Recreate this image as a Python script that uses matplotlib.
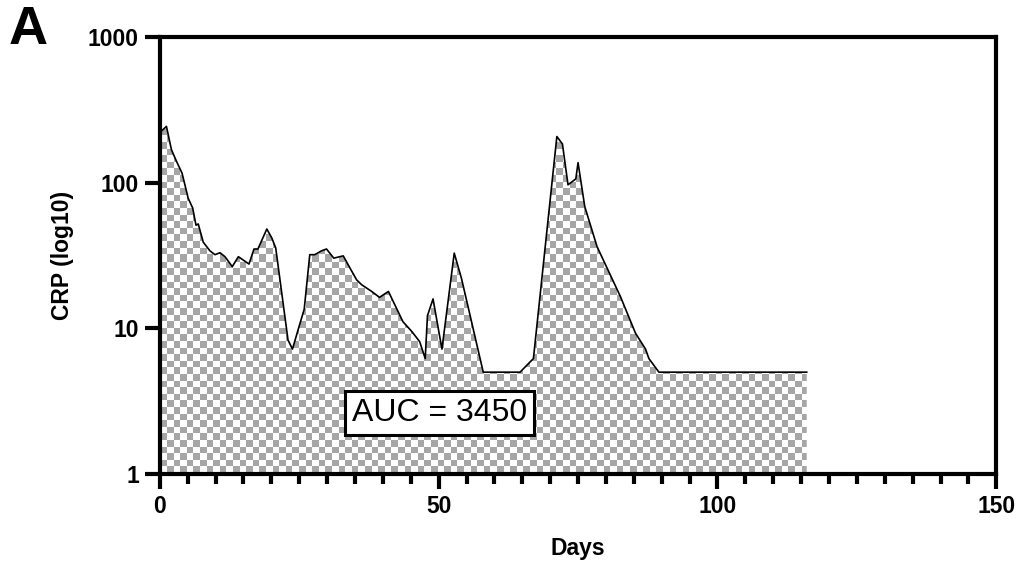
import numpy as np
import matplotlib
matplotlib.use("Agg")
import matplotlib.pyplot as plt
from matplotlib.colors import ListedColormap

plt.rcParams['font.family'] = ['Liberation Sans', 'DejaVu Sans']

# CRP over time
days = [0, 1.2, 2.1, 3.0, 4.0, 5.1, 5.9, 6.5, 6.9, 7.8,
        9.0, 9.9, 10.8, 11.7, 13.0, 14.1, 16.0, 16.9, 17.6, 19.2,
        20.1, 20.8, 23.0, 23.8, 24.8, 25.9, 26.9, 27.8, 29.0, 29.9,
        31.2, 32.9, 33.8, 35.3, 36.2, 38.0, 39.4, 41.0, 43.6, 45.2,
        46.6, 47.6, 48.0, 49.0, 50.6, 52.8, 54.1, 58.0, 64.6, 67.0,
        71.2, 72.2, 73.2, 74.6, 75.0, 76.2, 78.4, 82.6, 85.3, 87.1,
        87.7, 89.5, 116]
crp = [220, 243, 168, 140, 116, 78, 67, 51, 52, 39,
       34, 32, 33, 31, 26.5, 31, 27.6, 35, 35, 48,
       41.6, 35.5, 8.3, 7.2, 9.75, 13.5, 32, 32, 34, 35,
       30.3, 31.4, 27.2, 21.5, 19.9, 17.9, 16.3, 17.9, 11.1, 9.5,
       8.1, 6.2, 12.2, 15.9, 7.2, 32.8, 22, 5, 5, 6.2,
       207, 184, 96.5, 106, 137, 68.5, 36.4, 16.5, 9.25, 7.2,
       6.2, 5, 5]
auc_text = "AUC = 3450"

fig = plt.figure(figsize=(10.24, 5.67), dpi=100)
ax = fig.add_axes([0.156, 0.164, 0.817, 0.771])
ax.set_yscale('log')

# area under the curve, filled with a checkerboard pattern
poly = ax.fill_between(days, crp, 1, facecolor='none', edgecolor='none')
w, h = 836, 437
sq = 6.6
checker = ((np.arange(h)[:, None] / sq).astype(int)
           + (np.arange(w)[None, :] / sq).astype(int)) % 2
im = ax.imshow(checker, cmap=ListedColormap(['#a6a6a6', 'white']),
               extent=(0, 1, 0, 1), transform=ax.transAxes,
               interpolation='nearest', aspect='auto', zorder=1)
im.set_clip_path(poly.get_paths()[0], transform=ax.transData)
ax.set_xlim(0, 150)
ax.set_ylim(1, 1000)

ax.plot(days, crp, color='black', lw=1.2, zorder=3)

# axes styling
for s in ax.spines.values():
    s.set_linewidth(3)
ax.set_xticks([0, 50, 100, 150])
ax.set_xticks(np.arange(0, 151, 5), minor=True)
ax.set_yticks([1, 10, 100, 1000])
ax.set_yticklabels(['1', '10', '100', '1000'])
ax.yaxis.set_minor_locator(matplotlib.ticker.NullLocator())
ax.tick_params(which='major', length=11, width=3, labelsize=16.5, pad=4)
ax.tick_params(which='minor', length=7, width=3)
for lab in ax.get_xticklabels() + ax.get_yticklabels():
    lab.set_fontweight('bold')

ax.set_xlabel('Days', fontsize=16.5, fontweight='bold', labelpad=14)
ax.set_ylabel('CRP (log10)', fontsize=16.5, fontweight='bold', labelpad=10)

ax.text(0.3346, 0.139, auc_text, transform=ax.transAxes, fontsize=23,
        ha='center', va='center', zorder=5,
        bbox=dict(boxstyle='square,pad=0.22', facecolor='white',
                  edgecolor='black', linewidth=2.2))

fig.text(0.008, 0.947, 'A', fontsize=39, fontweight='bold', va='center')

fig.savefig('out.png', dpi=100)
